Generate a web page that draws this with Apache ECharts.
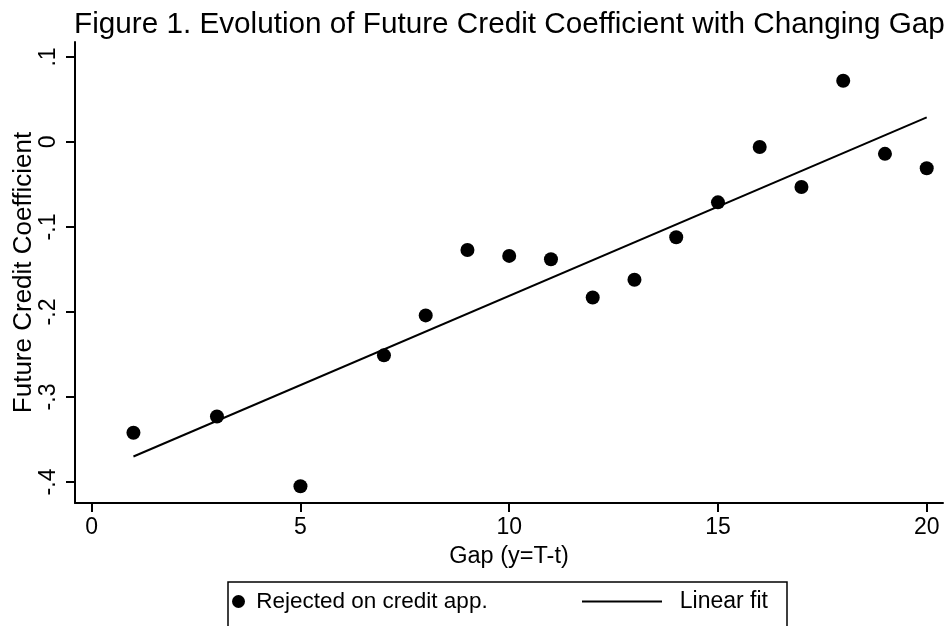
<!DOCTYPE html>
<html>
<head>
<meta charset="utf-8">
<script src="https://cdn.jsdelivr.net/npm/echarts@6/dist/echarts.min.js"></script>
<style>html,body{margin:0;padding:0;background:#fff;}#chart{width:949px;height:626px;}</style>
</head>
<body>
<div id="chart"></div>
<script>
// ---- data ----
var gap = [1, 3, 5, 7, 8, 9, 10, 11, 12, 13, 14, 15, 16, 17, 18, 19, 20];
var coef = [-0.342, -0.323, -0.405, -0.251, -0.204, -0.127, -0.134, -0.138, -0.183, -0.162, -0.112, -0.071, -0.006, -0.053, 0.072, -0.014, -0.031];
var fitX = [1, 20];
var fitY = [-0.370, 0.029];
var xTicks = [0, 5, 10, 15, 20];
var xTickLabels = ['0', '5', '10', '15', '20'];
var yTicks = [-0.4, -0.3, -0.2, -0.1, 0, 0.1];
var yTickLabels = ['-.4', '-.3', '-.2', '-.1', '0', '.1'];

var FONT = '"Liberation Sans", Arial, Helvetica, sans-serif';
function pairs(xs, ys) { return xs.map(function (x, i) { return [x, ys[i]]; }); }
function lookup(vals, labels) {
  return function (v) {
    for (var i = 0; i < vals.length; i++) if (Math.abs(vals[i] - v) < 1e-9) return labels[i];
    return '';
  };
}

var chart = echarts.init(document.getElementById('chart'), null, { renderer: 'canvas' });
chart.setOption({
  animation: false,
  backgroundColor: '#fff',
  title: {
    text: 'Figure 1. Evolution of Future Credit Coefficient with Changing Gap',
    left: 74, top: 10, padding: 0,
    textStyle: { fontFamily: FONT, fontSize: 29.7, fontWeight: 'normal', color: '#000' }
  },
  grid: { left: 75, right: 6, top: 42, bottom: 123, containLabel: false, outerBoundsMode: 'none' },
  xAxis: {
    type: 'value', min: -0.4, max: 20.39,
    name: 'Gap (y=T-t)', nameLocation: 'middle', nameGap: 42, nameMoveOverlap: false,
    nameTextStyle: { fontFamily: FONT, fontSize: 23.5, color: '#000' },
    axisLine: { show: true, onZero: false, lineStyle: { color: '#000', width: 2 } },
    axisTick: { show: true, customValues: xTicks, length: 9, lineStyle: { color: '#000', width: 2 } },
    axisLabel: { customValues: xTicks, formatter: lookup(xTicks, xTickLabels), margin: 13,
      fontFamily: FONT, fontSize: 23, color: '#000' },
    splitLine: { show: false }
  },
  yAxis: {
    type: 'value', min: -0.4247, max: 0.1176,
    name: 'Future Credit Coefficient', nameLocation: 'middle', nameGap: 38, nameRotate: 90, nameMoveOverlap: false,
    nameTextStyle: { fontFamily: FONT, fontSize: 26, color: '#000' },
    axisLine: { show: true, onZero: false, lineStyle: { color: '#000', width: 2 } },
    axisTick: { show: true, customValues: yTicks, length: 9, lineStyle: { color: '#000', width: 2 } },
    axisLabel: { customValues: yTicks, formatter: lookup(yTicks, yTickLabels), rotate: 90, margin: 15,
      fontFamily: FONT, fontSize: 23, color: '#000' },
    splitLine: { show: false }
  },
  legend: [
    {
      data: [{ name: 'Rejected on credit app.', icon: 'circle' }],
      left: 232, top: 590, itemWidth: 13, itemHeight: 13, padding: 0,
      formatter: function (n) { return ' ' + n; },
      textStyle: { fontFamily: FONT, fontSize: 22.5, color: '#000' }
    },
    {
      data: [{ name: 'Linear fit', icon: 'rect' }],
      left: 582, top: 590, itemWidth: 80, itemHeight: 2, padding: 0,
      formatter: function (n) { return '  ' + n; },
      textStyle: { fontFamily: FONT, fontSize: 23, color: '#000' }
    }
  ],
  graphic: [
    { type: 'rect', shape: { x: 228, y: 582, width: 559, height: 80 },
      style: { fill: 'none', stroke: '#000', lineWidth: 1.5 }, silent: true }
  ],
  series: [
    {
      name: 'Rejected on credit app.', type: 'scatter',
      data: pairs(gap, coef), symbol: 'circle', symbolSize: 14,
      itemStyle: { color: '#000', opacity: 1 }
    },
    {
      name: 'Linear fit', type: 'line',
      data: pairs(fitX, fitY), symbol: 'none', showSymbol: false,
      lineStyle: { color: '#000', width: 2 }, itemStyle: { color: '#000' }
    }
  ]
});
</script>
</body>
</html>
